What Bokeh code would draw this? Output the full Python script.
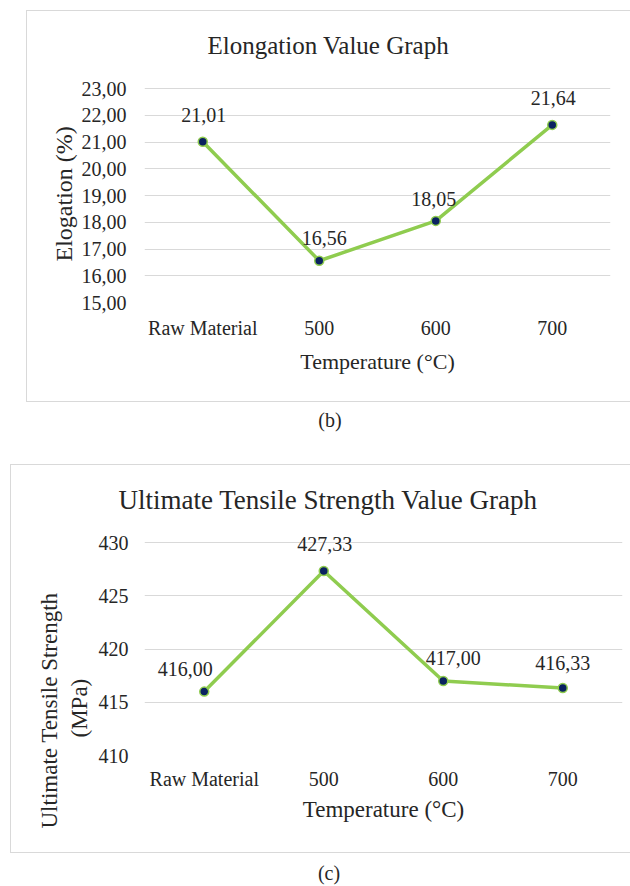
from bokeh.plotting import figure
from bokeh.models import Range1d, FactorRange, FixedTicker, Title, ColumnDataSource, Div
from bokeh.layouts import column
from bokeh.embed import file_html
from bokeh.resources import INLINE
from bokeh.core.properties import value

# ---------------- data ----------------
categories = ["Raw Material", "500", "600", "700"]

elong_values = [21.01, 16.56, 18.05, 21.64]
elong_labels = ["21,01", "16,56", "18,05", "21,64"]
elong_ticks = [15, 16, 17, 18, 19, 20, 21, 22, 23]
elong_tick_labels = ["15,00", "16,00", "17,00", "18,00", "19,00", "20,00", "21,00", "22,00", "23,00"]

uts_values = [416.00, 427.33, 417.00, 416.33]
uts_labels = ["416,00", "427,33", "417,00", "416,33"]
uts_ticks = [410, 415, 420, 425, 430]
uts_tick_labels = ["410", "415", "420", "425", "430"]

# ---------------- style ----------------
FONT = "Liberation Serif"
TXT = "#262626"
GRID = "#d9d9d9"
GREEN = "#8fcc4f"
NAVY = "#0a2260"


def make_chart(values, labels, ticks, tick_labels, W, H, mb, grid_top, title, ttl_size,
               ttl_offset, ttl_standoff, ax_size, yax_size, tick_size, ytick_standoff,
               xtick_standoff, xlab_standoff, lab_offx, lab_offy, ylabels):
    left, right, top, bottom = mb          # top = frame top (extended range)
    ymin, ymax = ticks[0], ticks[-1]
    fh_grid = (H - bottom) - grid_top       # pixel height of the tick span
    ppu = fh_grid / (ymax - ymin)
    y_end = ymax + (grid_top - top) / ppu
    p = figure(x_range=FactorRange(*categories, range_padding=0), y_range=Range1d(ymin, y_end),
               width=W, height=H, output_backend="svg", toolbar_location=None,
               min_border_left=left, min_border_right=right, min_border_top=top,
               min_border_bottom=bottom, title=title)
    p.title.align = "left"
    p.title.offset = ttl_offset
    p.title.standoff = ttl_standoff
    p.title.text_font = FONT
    p.title.text_font_size = ttl_size
    p.title.text_font_style = "normal"
    p.title.text_color = TXT

    p.outline_line_color = None
    p.background_fill_color = "white"
    p.border_fill_color = "white"
    p.xgrid.grid_line_color = None
    p.ygrid.grid_line_color = GRID
    p.ygrid.grid_line_width = 1.2
    p.yaxis.ticker = FixedTicker(ticks=ticks)
    p.yaxis.major_label_overrides = {float(t): s for t, s in zip(ticks, tick_labels)}
    for ax in (p.xaxis[0], p.yaxis[0]):
        ax.axis_line_color = None
        ax.major_tick_line_color = None
        ax.minor_tick_line_color = None
        ax.major_label_text_font = FONT
        ax.major_label_text_font_size = tick_size
        ax.major_label_text_color = TXT
        ax.axis_label_text_font = FONT
        ax.axis_label_text_font_size = ax_size
        ax.axis_label_text_font_style = "normal"
        ax.axis_label_text_color = TXT
    p.yaxis.major_label_standoff = ytick_standoff
    p.xaxis.major_label_standoff = xtick_standoff
    p.xaxis.axis_label = "Temperature (°C)"
    p.xaxis.axis_label_standoff = xlab_standoff

    src = ColumnDataSource(dict(x=categories, y=values, t=labels, ox=lab_offx, oy=lab_offy))
    p.line("x", "y", source=src, line_color=GREEN, line_width=3.5)
    p.scatter("x", "y", source=src, size=9, fill_color=NAVY, line_color=GREEN, line_width=1.5)
    p.text("x", "y", text="t", source=src, x_offset="ox", y_offset="oy",
           text_font=value(FONT), text_font_size=tick_size, text_color=TXT,
           text_align="center", text_baseline="middle")

    for txt, off, sto in ylabels:
        p.add_layout(Title(text=txt, align="left", offset=off, standoff=sto,
                           text_font=FONT, text_font_size=yax_size, text_font_style="normal",
                           text_color=TXT), "left")
    return p


BORDER = {"border-left": "1.5px solid #d9d9d9", "border-top": "1.5px solid #d9d9d9",
          "border-bottom": "1.5px solid #d9d9d9"}

pb = make_chart(elong_values, elong_labels, elong_ticks, elong_tick_labels,
                W=604, H=392, mb=(117, 21, 50, 101), grid_top=77,
                title="Elongation Value Graph", ttl_size="25px", ttl_offset=63, ttl_standoff=5,
                ax_size="22px", yax_size="24px", tick_size="20px", ytick_standoff=12,
                xtick_standoff=8, xlab_standoff=7,
                lab_offx=[1, 5, -2, 1], lab_offy=[-27, -23, -22, -27],
                ylabels=[("Elogation (%)", 41, 3)])
pb.styles = BORDER
pb.margin = (10, 0, 0, 26)

pc = make_chart(uts_values, uts_labels, uts_ticks, uts_tick_labels,
                W=620, H=389, mb=(133, 9, 49, 99), grid_top=77,
                title="Ultimate Tensile Strength Value Graph", ttl_size="27px", ttl_offset=-26,
                ttl_standoff=0, ax_size="23px", yax_size="23px", tick_size="20px",
                ytick_standoff=10, xtick_standoff=6, xlab_standoff=4,
                lab_offx=[-19, 1, 10, 0], lab_offy=[-23, -27, -23, -25],
                ylabels=[("(MPa)", 18, 7), ("Ultimate Tensile Strength", -73, 0)])
pc.styles = BORDER
pc.margin = (33, 0, 0, 10)

cap_style = {"font-family": FONT, "font-size": "20px", "color": TXT, "text-align": "center",
             "line-height": "22px"}
cb = Div(text="(b)", width=40, height=22, margin=(7, 0, 0, 310), styles=cap_style)
cc = Div(text="(c)", width=40, height=22, margin=(9, 0, 0, 309), styles=cap_style)

layout = column(column(pb), cb, column(pc), cc, spacing=0)
open("out.html", "w").write(file_html(layout, INLINE))
